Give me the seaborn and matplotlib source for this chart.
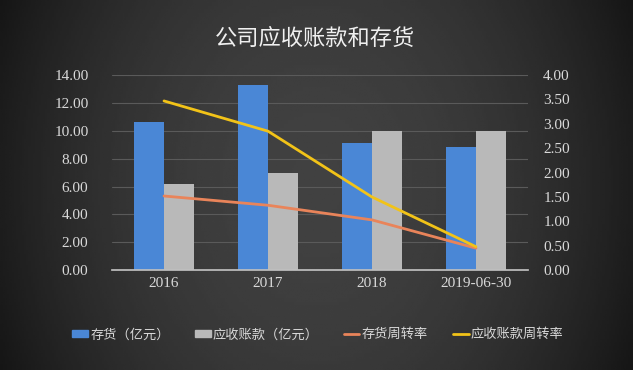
import numpy as np
import pandas as pd
import seaborn as sns
from matplotlib import pyplot as plt
from matplotlib.lines import Line2D
from matplotlib.patches import Patch


periods = ['2016', '2017', '2018', '2019-06-30']
inventory = [10.65, 13.30, 9.14, 8.85]        # 存货(亿元)
receivables = [6.15, 6.94, 10.02, 10.02]      # 应收账款(亿元)
inv_turnover = [1.52, 1.33, 1.03, 0.45]       # 存货周转率
rec_turnover = [3.47, 2.85, 1.50, 0.48]       # 应收账款周转率

bar_names = ['存货（亿元）', '应收账款（亿元）']
line_names = ['存货周转率', '应收账款周转率']

sns.set_theme(style='dark')
plt.rcParams['font.family'] = ['Noto Sans CJK SC', 'DejaVu Sans']
text_col = '#d9d9d9'
blue, grey = '#4a87d6', '#b9b9b9'
orange, yellow = '#e9845a', '#f2c318'

df = pd.DataFrame({
    'period': periods * 2,
    'value': inventory + receivables,
    'series': [bar_names[0]] * 4 + [bar_names[1]] * 4,
})

fig = plt.figure(figsize=(6.33, 3.70), dpi=100)

# dark background, darker at the edges
bg = fig.add_axes([0, 0, 1, 1], zorder=-10)
xs = np.linspace(-1, 1, 300)
ys = np.linspace(-1, 1, 100)[:, None]
grad = 0.255 - 0.14 * xs ** 2 - 0.03 * ys ** 2
bg.imshow(grad, cmap='gray', vmin=0, vmax=1, aspect='auto')
bg.axis('off')

ax = fig.add_axes([0.177, 0.27, 0.657, 0.527])
ax.patch.set_alpha(0)
sns.barplot(data=df, x='period', y='value', hue='series', palette=[blue, grey],
            width=0.58, gap=0, ax=ax, legend=False, saturation=1,
            linewidth=0, edgecolor='none')

ax2 = ax.twinx()
pos = np.arange(len(periods))
sns.lineplot(x=pos, y=inv_turnover, color=orange, lw=2, ax=ax2)
sns.lineplot(x=pos, y=rec_turnover, color=yellow, lw=2, ax=ax2)

ax.set_ylim(0, 14)
ax.set_yticks(np.arange(0, 14.1, 2))
ax.set_yticklabels([f'{v:.2f}' for v in np.arange(0, 14.1, 2)])
ax2.set_ylim(0, 4)
ax2.set_yticks(np.arange(0, 4.01, 0.5))
ax2.set_yticklabels([f'{v:.2f}' for v in np.arange(0, 4.01, 0.5)])
ax.set_xlim(-0.5, 3.5)
ax.set_xlabel('')
ax.set_ylabel('')
ax2.set_ylabel('')

ax.grid(axis='y', color='#5a5a5a', lw=0.8)
ax.grid(axis='x', visible=False)
ax2.grid(False)
for a in (ax, ax2):
    for s in a.spines.values():
        s.set_visible(False)
ax.spines['bottom'].set_visible(True)
ax.spines['bottom'].set_color('#bfbfbf')

serif = 'Liberation Serif'
ax.tick_params(axis='y', colors=text_col, labelsize=11, pad=17, length=0,
               labelfontfamily=serif)
ax.tick_params(axis='x', colors=text_col, labelsize=11, pad=5, length=0,
               labelfontfamily=serif)
ax2.tick_params(axis='y', colors=text_col, labelsize=11, pad=11, length=0,
                labelfontfamily=serif)

fig.text(0.498, 0.897, '公司应收账款和存货', ha='center', va='center',
         color='#f0f0f0', fontsize=16)

handles = [Patch(color=blue), Patch(color=grey),
           Line2D([], [], color=orange, lw=2), Line2D([], [], color=yellow, lw=2)]
leg = fig.legend(handles, bar_names + line_names, loc='center', ncol=4,
                 bbox_to_anchor=(0.502, 0.095), frameon=False, fontsize=9.5,
                 handlelength=1.2, handleheight=0.45, handletextpad=0.15,
                 columnspacing=1.9, labelcolor=text_col)

fig.savefig('out.png', dpi=100)
